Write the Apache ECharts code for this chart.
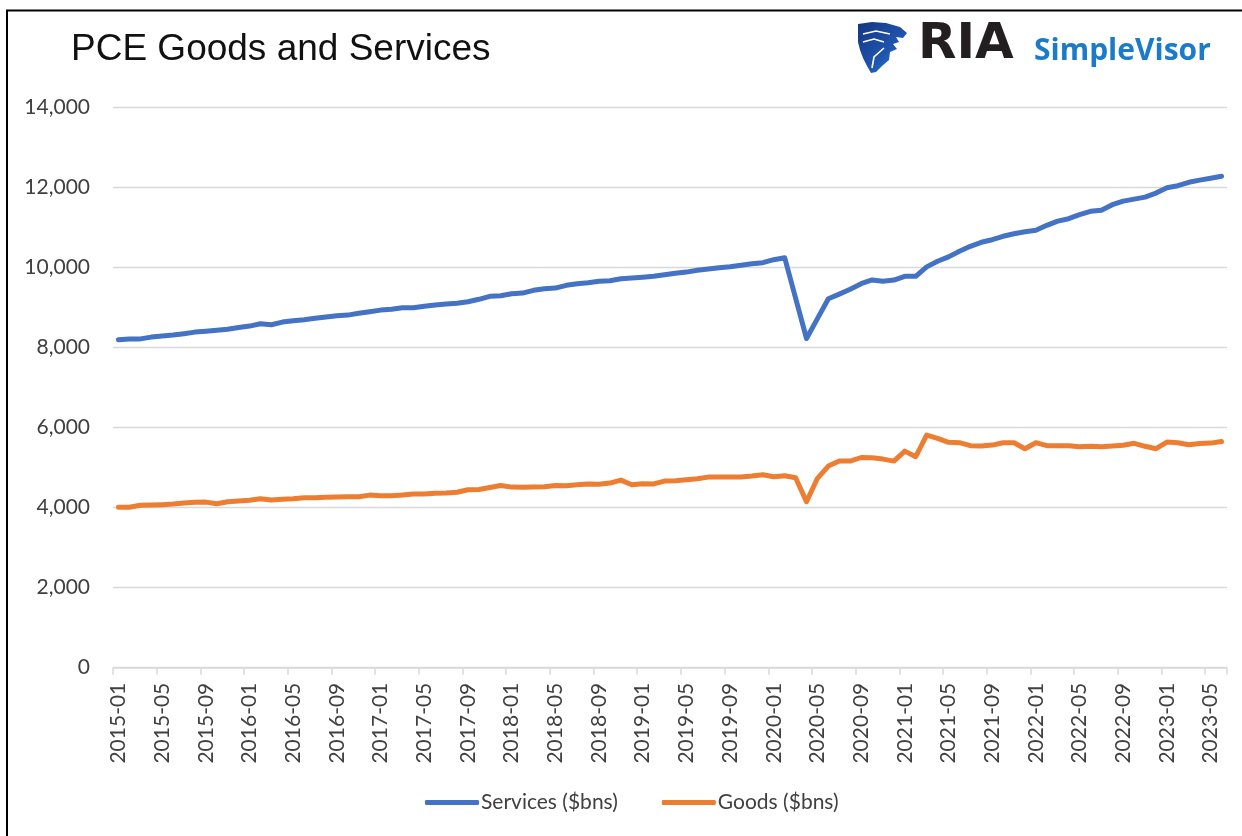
<!DOCTYPE html>
<html>
<head>
<meta charset="utf-8">
<script src="https://cdn.jsdelivr.net/npm/echarts@6/dist/echarts.min.js"></script>
<style>
html,body{margin:0;padding:0;background:#fff;}
#chart{width:1242px;height:836px;}
</style>
</head>
<body>
<div id="chart"></div>
<script>
// Monthly categories 2015-01 .. 2023-06
var startYear = 2015, monthCount = 102;
var categories = [];
for (var k = 0; k < monthCount; k++) {
  var y = startYear + Math.floor(k / 12), m = (k % 12) + 1;
  categories.push(y + '-' + (m < 10 ? '0' + m : m));
}

var servicesName = 'Services ($bns)';
var goodsName = 'Goods ($bns)';

var services = [
  8200, 8220, 8220, 8265, 8290, 8315, 8350, 8390, 8410, 8435, 8460, 8505,
  8540, 8600, 8575, 8640, 8675, 8700, 8735, 8765, 8800, 8815, 8860, 8900,
  8940, 8960, 9000, 9000, 9035, 9065, 9090, 9110, 9150, 9210, 9285, 9300,
  9350, 9365, 9435, 9475, 9490, 9560, 9600, 9625, 9660, 9675, 9725, 9740,
  9760, 9785, 9825, 9860, 9890, 9935, 9965, 10000, 10025, 10060, 10100, 10125,
  10200, 10250, 9240, 8230, 8728, 9225, 9340, 9460, 9600, 9695, 9660, 9690,
  9785, 9785, 10020, 10160, 10270, 10410, 10535, 10635, 10700, 10785, 10850, 10900,
  10935, 11060, 11165, 11225, 11325, 11410, 11435, 11575, 11665, 11715, 11765, 11865,
  12000, 12050, 12135, 12190, 12235, 12285
];

var goods = [
  4010, 4010, 4060, 4065, 4075, 4090, 4115, 4135, 4140, 4100, 4150, 4165,
  4185, 4225, 4190, 4210, 4225, 4250, 4250, 4260, 4265, 4275, 4275, 4315,
  4300, 4300, 4315, 4340, 4340, 4360, 4365, 4385, 4450, 4455, 4505, 4555,
  4515, 4510, 4515, 4525, 4555, 4550, 4575, 4590, 4585, 4615, 4690, 4575,
  4600, 4595, 4665, 4675, 4700, 4725, 4765, 4765, 4765, 4765, 4790, 4825,
  4775, 4800, 4750, 4150, 4735, 5040, 5165, 5165, 5255, 5250, 5215, 5165,
  5415, 5275, 5815, 5735, 5635, 5625, 5550, 5540, 5565, 5625, 5625, 5475,
  5625, 5550, 5550, 5550, 5525, 5535, 5525, 5540, 5560, 5610, 5535, 5475,
  5640, 5625, 5575, 5605, 5615, 5655
];

var yMin = 0, yMax = 14000, yStep = 2000;

var chart = echarts.init(document.getElementById('chart'), null, {renderer: 'canvas'});
var labelFont = 'Lato, "Open Sans", sans-serif';

var option = {
  backgroundColor: '#ffffff',
  animation: false,
  title: {
    text: 'PCE Goods and Services',
    left: 66,
    top: 26,
    textStyle: {
      fontFamily: '"Liberation Sans", Arial, sans-serif',
      fontSize: 37,
      fontWeight: 'normal',
      color: '#111111'
    }
  },
  legend: {
    left: 425,
    top: 792,
    padding: 0,
    itemWidth: 54,
    itemHeight: 5,
    itemGap: 44,
    icon: 'roundRect',
    textStyle: {fontFamily: labelFont, fontSize: 21, color: '#404040', padding: [0, 0, 0, -3]},
    data: [servicesName, goodsName]
  },
  grid: {
    left: 113,
    right: 15,
    top: 107.7,
    bottom: 168.3,
    containLabel: false
  },
  xAxis: {
    type: 'category',
    data: categories,
    boundaryGap: true,
    axisLine: {show: true, lineStyle: {color: '#d9d9d9', width: 1.5}},
    axisTick: {show: true, interval: 3, length: 7, lineStyle: {color: '#d9d9d9', width: 1.5}},
    axisLabel: {
      interval: 3,
      rotate: 90,
      margin: 15,
      fontFamily: labelFont,
      fontSize: 21,
      color: '#404040'
    },
    splitLine: {show: false}
  },
  yAxis: {
    type: 'value',
    min: yMin,
    max: yMax,
    interval: yStep,
    axisLine: {show: false},
    axisTick: {show: false},
    axisLabel: {
      margin: 23,
      fontFamily: labelFont,
      fontSize: 21,
      color: '#404040',
      formatter: function (v) { return v.toLocaleString('en-US'); }
    },
    splitLine: {show: true, lineStyle: {color: '#d9d9d9', width: 1.3}}
  },
  series: [
    {
      name: servicesName,
      type: 'line',
      data: services,
      symbol: 'none',
      smooth: false,
      lineStyle: {color: '#4472C4', width: 5, cap: 'round', join: 'round'},
      itemStyle: {color: '#4472C4'}
    },
    {
      name: goodsName,
      type: 'line',
      data: goods,
      symbol: 'none',
      smooth: false,
      lineStyle: {color: '#ED7D31', width: 5, cap: 'round', join: 'round'},
      itemStyle: {color: '#ED7D31'}
    }
  ],
  graphic: [
    // frame
    {type: 'line', shape: {x1: 6, y1: 10.5, x2: 1242, y2: 10.5}, style: {stroke: '#000', lineWidth: 2}},
    {type: 'line', shape: {x1: 7, y1: 10, x2: 7, y2: 836}, style: {stroke: '#000', lineWidth: 2}},
    // logo shield
    {
      type: 'polygon',
      shape: {points: [[858, 24], [872, 22], [886, 23], [900, 27], [907, 33], [903, 38], [896, 37], [899, 42], [893, 44], [897, 49], [890, 52], [889, 60], [882, 66], [876, 72], [871, 73], [867, 66], [863, 58], [860, 50], [858, 42]]},
      style: {
        fill: new echarts.graphic.LinearGradient(0, 0, 1, 1, [
          {offset: 0, color: '#15357e'},
          {offset: 0.6, color: '#1f56b0'},
          {offset: 1, color: '#2f8ad8'}
        ])
      }
    },
    {type: 'polyline', shape: {points: [[863, 34], [876, 31], [890, 34]]}, style: {stroke: '#ffffff', lineWidth: 1.6, fill: null}},
    {type: 'polyline', shape: {points: [[863, 42], [874, 39], [884, 42]]}, style: {stroke: '#ffffff', lineWidth: 1.6, fill: null}},
    {type: 'polyline', shape: {points: [[872, 68], [874, 57], [884, 48]]}, style: {stroke: '#ffffff', lineWidth: 1.6, fill: null}},
    {
      type: 'text', left: 918, top: 20,
      style: {text: 'RIA', fontFamily: '"DejaVu Sans", "Liberation Sans", sans-serif', fontWeight: 'bold', fontSize: 50, fill: '#231f20'}
    },
    {
      type: 'text', left: 1034, top: 36,
      style: {text: 'SimpleVisor', fontFamily: '"Open Sans", "Liberation Sans", sans-serif', fontWeight: 'bold', fontSize: 30, fill: '#1b7bc8'}
    }
  ]
};
chart.setOption(option);
</script>
</body>
</html>
